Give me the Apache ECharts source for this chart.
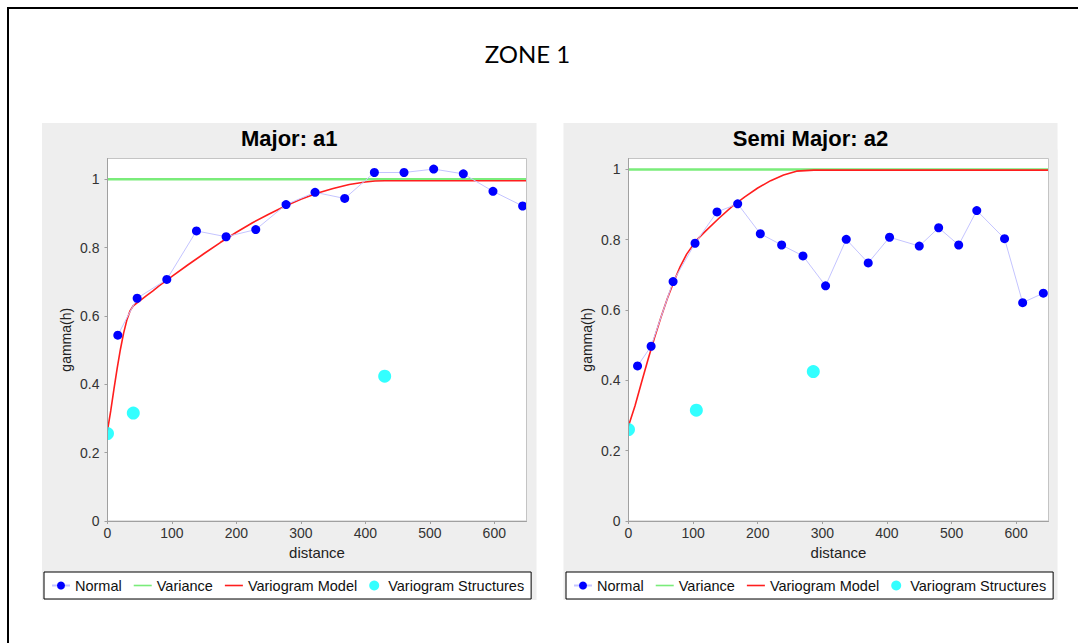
<!DOCTYPE html>
<html>
<head>
<meta charset="utf-8">
<script src="https://cdn.jsdelivr.net/npm/echarts@6/dist/echarts.min.js"></script>
<style>
html,body{margin:0;padding:0;background:#fff;}
#c{width:1078px;height:643px;}
</style>
</head>
<body>
<div id="c"></div>
<script>
// ---------- data ----------
const mainTitle = 'ZONE 1';
const chartTitles = ['Major: a1', 'Semi Major: a2'];
const legendNames = ['Normal', 'Variance', 'Variogram Model', 'Variogram Structures'];
const xAxisName = 'distance';
const yAxisName = 'gamma(h)';
const xTicks = [0, 100, 200, 300, 400, 500, 600];
const yTicks = [0, 0.2, 0.4, 0.6, 0.8, 1];
const xMax = 650;
const yMaxes = [1.061, 1.031];

// Major: a1
const normalX1 = [16, 46, 92, 138, 184, 230, 277, 322, 368, 414, 460, 506, 552, 598, 644];
const normalY1 = [0.544, 0.652, 0.707, 0.849, 0.832, 0.853, 0.926, 0.962, 0.944, 1.02, 1.02, 1.03, 1.016, 0.965, 0.922];
const varianceX1 = [0, 650];
const varianceY1 = [1, 1];
const modelX1 = [0, 5, 10, 15, 20, 25, 30, 35, 40, 50, 60, 70, 80, 100, 125, 150, 175, 200, 225, 250, 275, 300, 325, 350, 375, 400, 415, 430, 650];
const modelY1 = [0.265, 0.322, 0.386, 0.447, 0.502, 0.55, 0.588, 0.615, 0.63, 0.644, 0.659, 0.673, 0.688, 0.716, 0.75, 0.783, 0.815, 0.845, 0.873, 0.898, 0.921, 0.942, 0.959, 0.973, 0.985, 0.992, 0.995, 0.996, 0.996];
const structX1 = [0, 40, 430];
const structY1 = [0.256, 0.316, 0.424];

// Semi Major: a2
const normalX2 = [14, 35, 69, 103, 137, 169, 204, 237, 270, 305, 337, 371, 404, 450, 480, 511, 539, 582, 610, 642];
const normalY2 = [0.441, 0.497, 0.681, 0.79, 0.879, 0.902, 0.817, 0.785, 0.754, 0.669, 0.801, 0.734, 0.807, 0.782, 0.834, 0.785, 0.883, 0.803, 0.621, 0.648];
const varianceX2 = [0, 650];
const varianceY2 = [1, 1];
const modelX2 = [0, 10, 20, 30, 40, 50, 60, 70, 80, 90, 105, 120, 140, 160, 180, 200, 220, 240, 260, 287, 650];
const modelY2 = [0.27, 0.327, 0.393, 0.458, 0.52, 0.578, 0.632, 0.68, 0.7235, 0.759, 0.798, 0.826, 0.861, 0.894, 0.922, 0.947, 0.968, 0.984, 0.995, 0.998, 0.998];
const structX2 = [0, 105, 286];
const structY2 = [0.26, 0.315, 0.425];

// ---------- layout ----------
const FONT = '"Liberation Sans", Arial, sans-serif';
const panels = [
  {x: 42, y: 123, w: 494.5, h: 477},
  {x: 563.5, y: 123, w: 494, h: 477}
];
const plots = [
  {x: 107.5, y: 158.5, w: 419, h: 362.5},
  {x: 628.5, y: 158.5, w: 420, h: 362.5}
];
const legendLefts = [44, 566];

const zip = (xs, ys) => xs.map((x, i) => [x, ys[i]]);

const GRAY = '#eeeeee';
const graphics = [];
// outer frame
graphics.push({type: 'polyline', shape: {points: [[8, 643], [8, 8], [1078, 8]]},
  style: {stroke: '#000', lineWidth: 2, fill: null}, z: 1, silent: true});
// main title
graphics.push({type: 'text', x: 527.5, y: 53, z: 20, silent: true,
  style: {text: mainTitle, font: '24px Lato, "Open Sans", sans-serif', fill: '#000',
    align: 'center', verticalAlign: 'middle', textAlign: 'center', textVerticalAlign: 'middle'}});

panels.forEach((p, i) => {
  const q = plots[i];
  graphics.push({type: 'rect', shape: {x: p.x, y: p.y, width: p.w, height: p.h},
    style: {fill: GRAY}, z: -5, silent: true});
  // masks to clip symbol overflow at the plot edges
  const m = 9;
  [[q.x - m, q.y - m, q.w + 2 * m, m], [q.x - m, q.y + q.h, q.w + 2 * m, m],
   [q.x - m, q.y, m, q.h], [q.x + q.w, q.y, m, q.h]].forEach(r => {
    graphics.push({type: 'rect', shape: {x: r[0], y: r[1], width: r[2], height: r[3]},
      style: {fill: GRAY}, z: 10, silent: true});
  });
  graphics.push({type: 'rect', shape: {x: q.x, y: q.y, width: q.w, height: q.h},
    style: {fill: null, stroke: '#c4c4c4', lineWidth: 1}, z: 11, silent: true});
  graphics.push({type: 'text', x: p.x + p.w / 2, y: 138, z: 20, silent: true,
    style: {text: chartTitles[i], font: 'bold 22px ' + FONT, fill: '#000',
      align: 'center', verticalAlign: 'middle', textAlign: 'center', textVerticalAlign: 'middle'}});
});

const axisColor = '#a0a0a0';
function xAx(i) {
  return {
    type: 'value', gridIndex: i, min: 0, max: xMax, z: 12,
    name: xAxisName, nameLocation: 'middle', nameGap: 24,
    nameTextStyle: {fontFamily: FONT, fontSize: 15, color: '#222'},
    axisLine: {show: true, onZero: false, lineStyle: {color: axisColor, width: 1}},
    axisTick: {show: true, length: 3, customValues: xTicks, lineStyle: {color: axisColor}},
    axisLabel: {customValues: xTicks, fontFamily: FONT, fontSize: 14, color: '#333', margin: 5},
    splitLine: {show: false}
  };
}
function yAx(i) {
  return {
    type: 'value', gridIndex: i, min: 0, max: yMaxes[i], z: 12,
    name: yAxisName, nameLocation: 'middle', nameGap: 35, nameRotate: 90,
    nameTextStyle: {fontFamily: FONT, fontSize: 14, color: '#222'},
    axisLine: {show: true, onZero: false, lineStyle: {color: axisColor, width: 1}},
    axisTick: {show: true, length: 3, customValues: yTicks, lineStyle: {color: axisColor}},
    axisLabel: {customValues: yTicks, fontFamily: FONT, fontSize: 14, color: '#333', margin: 8},
    splitLine: {show: false}
  };
}

const sets = [
  {n: zip(normalX1, normalY1), v: zip(varianceX1, varianceY1), m: zip(modelX1, modelY1), s: zip(structX1, structY1)},
  {n: zip(normalX2, normalY2), v: zip(varianceX2, varianceY2), m: zip(modelX2, modelY2), s: zip(structX2, structY2)}
];
const GREEN = '#7aec7a', RED = '#ff1e1e', BLUE = '#0000ff', LAV = '#c4c4ff', CYAN = '#00ffff';
const series = [];
sets.forEach((d, i) => {
  series.push({name: legendNames[1], type: 'line', xAxisIndex: i, yAxisIndex: i, data: d.v,
    symbol: 'none', lineStyle: {color: GREEN, width: 2.5}, itemStyle: {color: GREEN}, z: 2, silent: true});
  series.push({name: legendNames[2], type: 'line', xAxisIndex: i, yAxisIndex: i, data: d.m,
    symbol: 'none', lineStyle: {color: RED, width: 1.6}, itemStyle: {color: RED}, z: 2, silent: true});
  series.push({name: legendNames[0], type: 'line', xAxisIndex: i, yAxisIndex: i, data: d.n,
    symbol: 'circle', symbolSize: 9, showSymbol: true,
    lineStyle: {color: LAV, width: 1}, itemStyle: {color: BLUE}, z: 2, silent: true});
  series.push({name: legendNames[3], type: 'scatter', xAxisIndex: i, yAxisIndex: i, data: d.s,
    symbol: 'circle', symbolSize: 13, itemStyle: {color: CYAN}, z: 2, silent: true});
});

const legendData = [
  {name: legendNames[0]},
  {name: legendNames[1], icon: 'path://M0,0h18v1.6h-18z'},
  {name: legendNames[2], icon: 'path://M0,0h18v1.6h-18z'},
  {name: legendNames[3], icon: 'circle'}
];
const legends = legendLefts.map(l => ({
  data: legendData, left: l, top: 572, orient: 'horizontal', z: 20,
  itemWidth: 18, itemHeight: 10, itemGap: 12, padding: [6, 7],
  borderColor: '#000', borderWidth: 1, backgroundColor: '#fff',
  selectedMode: false,
  textStyle: {fontFamily: FONT, fontSize: 14.5, color: '#111'}
}));

const chart = echarts.init(document.getElementById('c'), null, {renderer: 'svg'});
chart.setOption({
  animation: false,
  backgroundColor: '#fff',
  grid: plots.map(q => ({left: q.x, top: q.y, width: q.w, height: q.h, show: true,
    backgroundColor: '#fff', borderWidth: 0, containLabel: false})),
  xAxis: [xAx(0), xAx(1)],
  yAxis: [yAx(0), yAx(1)],
  legend: legends,
  graphic: {elements: graphics},
  series: series
});
</script>
</body>
</html>
